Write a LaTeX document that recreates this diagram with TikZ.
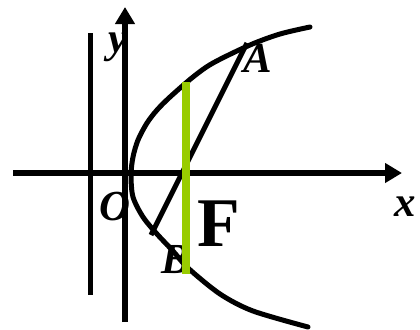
\documentclass[tikz,border=0pt]{standalone}
\usepackage{fontspec}
\setmainfont{Liberation Serif}
\usepackage{xcolor}
\usetikzlibrary{arrows.meta}
\definecolor{chordgreen}{HTML}{99CC00}

\begin{document}
\begin{tikzpicture}[
    x=1bp, y=-1bp,
    lbl/.style={inner sep=0pt, font=\fontsize{43}{43}\selectfont\bfseries\itshape},
    thickline/.style={line width=5bp},
    axis/.style={line width=5.5bp, -{Triangle[length=17bp,width=19bp]}}
]
\useasboundingbox (0,0) rectangle (420,330);

% labels first, lines go over them
\node[lbl] (ylbl) at (118,47) {y};
\node[lbl] (albl) at (258,58) {A};
\node[lbl] (olbl) at (115,207) {O};
\node[lbl] (xlbl) at (405,207) {x};
\node[lbl] (blbl) at (176,260) {B};
\node[inner sep=0pt, font=\fontsize{70}{70}\selectfont\bfseries] (flbl) at (219,224) {F};

\coordinate (xs) at (13,173);
\coordinate (xe) at (402,173);
\coordinate (ys) at (125,322);
\coordinate (ye) at (125,7);
\coordinate (dtop) at (90,33);
\coordinate (dbot) at (90,295);
\coordinate (A) at (247,43);
\coordinate (B) at (151,235);
\coordinate (ltop) at (186,82);
\coordinate (lbot) at (186,274);

\draw[axis] (xs) -- (xe);
\draw[axis] (ys) -- (ye);
\draw[thickline] (dtop) -- (dbot);

% parabola
\draw[thickline, line cap=round] plot[smooth, tension=0.5] coordinates {
    (310,27) (280,34) (250,45) (213,63) (193,77) (170,97) (157,110)
    (147,123) (138,140) (133,157) (131,175) (133,197) (143,217)
    (157,234) (173,251) (188,268) (220,294) (253,311) (308,327)};

\draw[thickline] (A) -- (B);
\draw[chordgreen, line width=7.5bp] (ltop) -- (lbot);

\end{tikzpicture}
\end{document}
